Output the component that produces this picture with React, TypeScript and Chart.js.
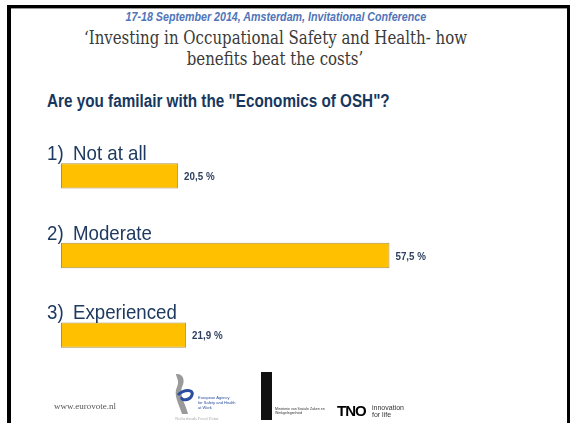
import React, { useEffect, useRef } from "react";
import { Chart, registerables } from "chart.js";

Chart.register(...registerables);

const categories = ["Not at all", "Moderate", "Experienced"];
const numbers = ["1)", "2)", "3)"];
const values = [20.5, 57.5, 21.9];
const valueLabels = ["20,5 %", "57,5 %", "21,9 %"];

const SQUISH = 0.89;

const labelPlugin = {
  id: "slideLabels",
  afterDatasetsDraw(chart: any) {
    const ctx = chart.ctx;
    const meta = chart.getDatasetMeta(0);
    const yScale = chart.scales.y;
    ctx.save();
    meta.data.forEach((bar: any, i: number) => {
      const yc = yScale.getPixelForValue(i);
      const top = yc - bar.height / 2;
      // category label above bar
      ctx.save();
      ctx.translate(47, top - 3);
      ctx.scale(SQUISH, 1);
      ctx.font = "21px 'Liberation Sans', Arial, sans-serif";
      ctx.fillStyle = "#1f3a60";
      ctx.textBaseline = "alphabetic";
      ctx.textAlign = "left";
      ctx.fillText(numbers[i], 0, 0);
      ctx.fillText(categories[i], (73 - 47) / SQUISH, 0);
      ctx.restore();
      // value label
      ctx.save();
      ctx.translate(bar.x + 6, yc + 4);
      ctx.scale(SQUISH, 1);
      ctx.font = "bold 11px 'Liberation Sans', Arial, sans-serif";
      ctx.fillStyle = "#2c3f5e";
      ctx.textAlign = "left";
      ctx.fillText(valueLabels[i], 0, 0);
      ctx.restore();
    });
    ctx.restore();
  },
};

function BarChart() {
  const ref = useRef<HTMLCanvasElement | null>(null);
  useEffect(() => {
    if (!ref.current) return;
    const chart = new Chart(ref.current, {
      type: "bar",
      data: {
        labels: categories,
        datasets: [
          {
            data: values,
            backgroundColor: "#FFC000",
            borderColor: "#a8924c",
            borderWidth: 1,
            borderSkipped: false,
            barPercentage: 0.318,
            categoryPercentage: 1,
          },
        ],
      },
      options: {
        indexAxis: "y",
        animation: false,
        responsive: false,
        maintainAspectRatio: false,
        layout: { padding: { left: 61, right: 52, top: 136, bottom: 48 } },
        plugins: { legend: { display: false }, tooltip: { enabled: false } },
        scales: {
          x: { display: false, min: 0, max: 80 },
          y: { display: false },
        },
      },
      plugins: [labelPlugin],
    } as any);
    return () => chart.destroy();
  }, []);
  return (
    <canvas
      ref={ref}
      width={570}
      height={423}
      style={{ position: "absolute", left: 0, top: 0, width: 570, height: 423 }}
    />
  );
}

const sq = (x: number, y: number, extra: React.CSSProperties = {}): React.CSSProperties => ({
  position: "absolute",
  left: x,
  top: y,
  whiteSpace: "nowrap",
  transformOrigin: "left top",
  ...extra,
});

export default function App() {
  return (
    <div
      style={{
        position: "fixed",
        left: 0,
        top: 0,
        width: 570,
        height: 423,
        background: "#fff",
        overflow: "hidden",
      }}
    >
      {/* slide frame */}
      <div
        style={{
          position: "absolute",
          left: 7,
          top: 5,
          width: 556,
          height: 430,
          borderLeft: "4px solid #000",
          borderTop: "3px solid #000",
          borderRight: "3px solid #000",
          boxShadow: "inset 0 1px 0 #999",
        }}
      />
      {/* titles */}
      <div
        style={{
          position: "absolute",
          left: 0,
          width: 552,
          top: 10,
          textAlign: "center",
          font: "italic bold 12px 'Liberation Sans', Arial, sans-serif",
          color: "#4f74b8",
        }}
      >
        <span style={{ display: "inline-block", transform: `scaleX(${SQUISH})` }}>
          17-18 September 2014, Amsterdam, Invitational Conference
        </span>
      </div>
      <div
        style={{
          position: "absolute",
          left: 0,
          width: 550,
          top: 27,
          textAlign: "center",
          font: "18.5px 'DejaVu Serif', serif",
          lineHeight: "21px",
          color: "#3a3a3a",
        }}
      >
        <div style={{ display: "inline-block", transform: `scaleX(${SQUISH * 0.91})` }}>
          ‘Investing in Occupational Safety and Health- how
        </div>
        <br />
        <div style={{ display: "inline-block", transform: `scaleX(${SQUISH * 0.91})` }}>
          benefits beat the costs’
        </div>
      </div>
      <div
        style={sq(47, 91, {
          font: "bold 17.5px 'Liberation Sans', Arial, sans-serif",
          color: "#17375e",
          transform: `scaleX(${SQUISH * 0.98})`,
        })}
      >
        Are you familair with the "Economics of OSH"?
      </div>

      <BarChart />

      {/* footer */}
      <div style={sq(54, 401, { font: "9px 'Liberation Serif', serif", color: "#555" })}>
        www.eurovote.nl
      </div>
      <svg
        style={{ position: "absolute", left: 170, top: 371 }}
        width={72}
        height={52}
        viewBox="0 0 72 52"
      >
        <path d="M6 3 C12 2 16 8 12 16 C9 24 16 34 18 43 L12 43 C9 33 3 24 7 16 C10 10 6 6 6 3 Z" fill="#9a9a9a" />
        <path d="M8 24 C14 18 24 18 22 24 C20 30 10 30 12 26" stroke="#2a4da0" strokeWidth={3} fill="none" />
        <text x={28} y={28} fontSize={4} fill="#2a4da0" fontFamily="Liberation Sans">European Agency</text>
        <text x={28} y={33} fontSize={4} fill="#2a4da0" fontFamily="Liberation Sans">for Safety and Health</text>
        <text x={28} y={38} fontSize={4} fill="#2a4da0" fontFamily="Liberation Sans">at Work</text>
        <text x={5} y={49} fontSize={4.5} fill="#aaa" fontFamily="Liberation Serif">Netherlands Focal Point</text>
      </svg>
      <div style={{ position: "absolute", left: 261, top: 372, width: 11, height: 48, background: "#111" }} />
      <div style={sq(275, 407, { font: "3.5px 'Liberation Sans', Arial", color: "#333", lineHeight: "4px" })}>
        Ministerie van Sociale Zaken en
        <br />
        Werkgelegenheid
      </div>
      <div
        style={sq(337, 402, {
          font: "bold 15px 'Liberation Sans', Arial",
          color: "#000",
          letterSpacing: "-1px",
        })}
      >
        TNO
      </div>
      <div style={sq(372, 404, { font: "7px 'Liberation Sans', Arial", color: "#333", lineHeight: "7px" })}>
        innovation
        <br />
        for life
      </div>
    </div>
  );
}
